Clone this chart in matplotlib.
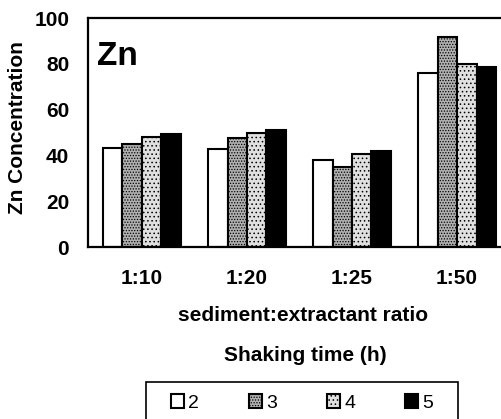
import matplotlib
matplotlib.use("Agg")
import matplotlib.pyplot as plt
import numpy as np
from matplotlib.patches import Rectangle

plt.rcParams['font.family'] = ['Liberation Sans', 'DejaVu Sans']
plt.rcParams['hatch.linewidth'] = 0.6

ratios = ["1:10", "1:20", "1:25", "1:50"]
times = ["2", "3", "4", "5"]
zn_2h = [43.2, 42.8, 37.8, 76.0]
zn_3h = [45.0, 47.6, 34.9, 91.5]
zn_4h = [48.2, 49.9, 40.6, 79.8]
zn_5h = [49.3, 51.1, 42.0, 78.4]

series = [zn_2h, zn_3h, zn_4h, zn_5h]
faces = ["white", "#b0b0b0", "#e0e0e0", "black"]
hatches = [None, "......", "....", None]

fig = plt.figure(figsize=(5.01, 4.19), dpi=100)
ax = fig.add_axes([88 / 501, 1 - 247 / 419, 423 / 501, 229 / 419])

x = np.arange(len(ratios))
w = 0.185
handles = []
for i, vals in enumerate(series):
    b = ax.bar(x + (i - 1.5) * w, vals, w, color=faces[i], edgecolor="black",
               linewidth=1.5, hatch=hatches[i], label=times[i])
    handles.append(b)

ax.set_xlim(-0.513, 3.513)
ax.set_ylim(0, 100)
ax.set_yticks([0, 20, 40, 60, 80, 100])
ax.set_xticks(x)
ax.set_xticklabels(ratios)
ax.tick_params(length=0, labelsize=15)
ax.tick_params(axis="x", pad=16)
ax.tick_params(axis="y", pad=13.5)
for lab in ax.get_xticklabels() + ax.get_yticklabels():
    lab.set_fontweight("bold")
for s in ["left", "top", "bottom"]:
    ax.spines[s].set_linewidth(1.6)
ax.spines["right"].set_visible(False)

ax.set_xlabel("sediment:extractant ratio", fontsize=15, fontweight="bold")
ax.xaxis.label.set_va("center")
ax.xaxis.set_label_coords(0.508, -0.297)
ax.set_ylabel("Zn Concentration", fontsize=15, fontweight="bold")
ax.yaxis.label.set_va("center")
ax.yaxis.set_label_coords(-0.1655, 0.52)

ax.text(0.022, 0.83, "Zn", transform=ax.transAxes, fontsize=24,
        fontweight="bold", va="center", ha="left")

fig.text(305 / 501, 1 - 355 / 419, "Shaking time (h)", fontsize=15,
         fontweight="bold", ha="center", va="center")

leg = fig.legend(handles=handles, loc="center", ncol=4,
                 bbox_to_anchor=(302 / 501, 1 - 403 / 419), frameon=False,
                 fontsize=14, handlelength=0.7, handleheight=0.7,
                 handletextpad=0.2, columnspacing=2.55, borderaxespad=0)

fig.patches.append(Rectangle((146 / 501, -0.05), 312 / 501, 0.05 + 1 - 382 / 419,
                             transform=fig.transFigure, fill=False,
                             edgecolor="black", linewidth=1.2))

fig.savefig("out.png", dpi=100)
